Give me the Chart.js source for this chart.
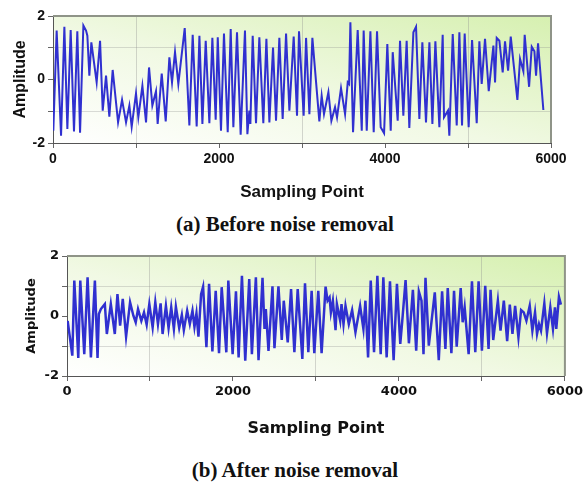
<!DOCTYPE html>
<html>
<head>
<meta charset="utf-8">
<script src="https://cdn.jsdelivr.net/npm/chart.js@4/dist/chart.umd.min.js"></script>
<style>
  body { margin: 0; background: #fff; width: 586px; height: 486px; position: relative; overflow: hidden; }
  canvas { position: absolute; left: 0; }
  .cap { position: absolute; left: 0; width: 586px; text-align: center;
         font-family: "Liberation Serif", "DejaVu Serif", serif; font-weight: bold; font-size: 21px; color: #111; }
</style>
</head>
<body>
<canvas id="before" width="586" height="203" style="top:0"></canvas>
<div class="cap" style="top:212px; left:-8px">(a) Before noise removal</div>
<canvas id="after" width="586" height="198" style="top:240px"></canvas>
<div class="cap" style="top:458px; left:2px">(b) After noise removal</div>
<script>
// tick labels on both charts
const xTicks = [0, 2000, 4000, 6000];
const yTicks = [-2, 0, 2];

// (a) signal before noise removal: sampling point / amplitude
const beforeSample = [
  4, 44, 97, 137, 173, 213, 253, 293, 326, 366,
  398, 414, 438, 462, 526, 567, 599, 639, 679, 719,
  784, 832, 880, 920, 948, 1000, 1028, 1077, 1121, 1157,
  1197, 1241, 1261, 1310, 1358, 1402, 1434, 1470, 1510, 1587,
  1643, 1683, 1731, 1764, 1800, 1840, 1884, 1920, 1960, 1985,
  2024, 2060, 2105, 2141, 2173, 2217, 2261, 2313, 2342, 2366,
  2378, 2406, 2446, 2486, 2534, 2571, 2607, 2651, 2687, 2727,
  2767, 2808, 2848, 2900, 2940, 2964, 3020, 3049, 3089, 3125,
  3209, 3237, 3265, 3318, 3354, 3398, 3422, 3470, 3519, 3551,
  3567, 3583, 3615, 3671, 3720, 3743, 3780, 3824, 3864, 3904,
  3948, 3989, 4028, 4069, 4093, 4153, 4181, 4221, 4261, 4293,
  4342, 4374, 4414, 4450, 4494, 4535, 4571, 4607, 4655, 4695,
  4711, 4759, 4775, 4816, 4864, 4896, 4928, 4960, 5008, 5049,
  5105, 5137, 5165, 5205, 5250, 5306, 5326, 5346, 5378, 5418,
  5446, 5483, 5515, 5595, 5627, 5667, 5683, 5736, 5768, 5800,
  5820, 5844, 5908
];
const beforeAmp = [
  -1.61, 1.54, -1.77, 1.66, -1.56, 1.56, -1.64, 1.52, -1.68, 1.70,
  1.54, 1.38, 0.12, 1.17, -0.09, 1.22, -0.98, 0.12, -1.17, 0.30,
  -1.35, -0.64, -1.35, -0.82, -1.49, -0.44, -1.19, -0.20, -1.35, 0.38,
  -0.82, -0.37, -1.40, 0.19, -1.32, 0.70, -0.09, 0.86, -0.14, 1.62,
  -1.45, 1.41, -1.48, 1.38, -1.40, 1.22, -1.38, 1.31, -1.27, 1.33,
  -1.61, 1.45, -1.66, 1.59, -1.50, 1.49, -1.74, 1.54, -1.72, -0.98,
  -1.40, 1.38, -1.38, 1.33, -1.38, 1.28, -1.35, 1.01, -1.30, 1.31,
  -1.24, 1.45, -0.98, 1.35, -1.14, 1.52, -1.14, 1.31, -1.09, 1.31,
  -1.32, -0.51, -1.09, -0.40, -1.30, -0.87, -1.19, -0.27, -1.09, -0.09,
  -0.14, 1.80, -1.66, 1.56, -1.61, 1.54, -1.61, 1.52, -1.66, 1.52,
  -1.50, -1.69, 1.12, -1.61, 0.86, -1.30, 1.22, -1.14, 1.22, -1.53,
  1.49, 1.66, -1.24, 1.17, -1.35, 1.17, -1.40, 1.20, -1.50, 1.41,
  -1.19, -0.98, -1.77, 1.43, -1.45, 1.49, -1.45, 1.45, -1.50, 1.24,
  -1.38, 1.20, -0.14, 1.28, -0.37, 1.07, -0.09, 1.31, 1.22, 0.22,
  1.20, 0.28, 1.35, -0.64, 0.65, 0.26, 1.41, -0.23, 1.03, 0.89,
  0.12, 1.14, -0.96
];

// (b) signal after noise removal
const afterSample = [
  8, 64, 88, 136, 160, 208, 248, 288, 336, 368,
  384, 408, 456, 480, 528, 576, 608, 640, 672, 712,
  760, 800, 828, 856, 896, 928, 960, 992, 1032, 1064,
  1096, 1128, 1152, 1192, 1224, 1256, 1288, 1312, 1352, 1384,
  1408, 1448, 1480, 1512, 1536, 1560, 1584, 1616, 1640, 1680,
  1712, 1752, 1792, 1832, 1864, 1920, 1944, 1996, 2036, 2068,
  2108, 2148, 2196, 2228, 2276, 2308, 2356, 2380, 2396, 2428,
  2476, 2500, 2548, 2588, 2612, 2660, 2700, 2740, 2780, 2836,
  2868, 2908, 2948, 2980, 3028, 3068, 3116, 3140, 3164, 3180,
  3204, 3236, 3252, 3292, 3308, 3332, 3356, 3396, 3436, 3476,
  3532, 3572, 3596, 3628, 3660, 3700, 3740, 3780, 3812, 3852,
  3892, 3936, 3976, 4016, 4040, 4080, 4120, 4168, 4208, 4240,
  4272, 4296, 4320, 4360, 4432, 4480, 4520, 4560, 4588, 4632,
  4664, 4696, 4744, 4768, 4792, 4840, 4880, 4920, 4960, 5000,
  5040, 5080, 5104, 5136, 5192, 5224, 5264, 5304, 5336, 5368,
  5400, 5440, 5472, 5504, 5536, 5576, 5608, 5640, 5664, 5688,
  5712, 5752, 5784, 5824, 5856, 5880, 5896, 5928, 5952
];
const afterAmp = [
  -0.16, -1.32, 1.18, -1.40, 1.18, -1.27, 1.29, -1.38, 1.18, -1.40,
  0.07, 0.23, 0.40, -0.60, 0.40, -0.60, 0.73, -0.32, 0.57, -0.69,
  0.46, 0.01, -0.21, 0.23, -0.16, 0.12, -0.29, 0.40, -0.38, 0.46,
  -0.27, 0.42, -0.60, 0.34, -0.40, 0.29, -0.43, 0.31, -0.40, 0.04,
  -0.47, 0.18, -0.27, 0.18, -0.36, 0.09, -0.69, 0.73, 0.98, -1.04,
  1.07, -1.18, 0.84, -1.24, 0.96, -1.21, 1.18, -1.27, 0.82, -1.38,
  1.34, -1.49, 1.23, -1.27, 1.29, -1.47, 1.27, -0.43, 0.23, -1.16,
  0.99, -1.07, 0.99, -0.80, 0.51, -0.88, 0.90, -1.21, 0.90, -1.43,
  1.09, -1.21, 0.84, -1.24, 0.84, -1.24, 0.98, 0.51, 0.62, 0.12,
  0.51, -0.47, 0.40, -0.16, 0.40, -0.27, 0.34, -0.27, 0.20, -0.54,
  0.34, -0.43, 0.51, -1.38, 1.18, -1.21, 1.34, -1.27, 1.29, -1.38,
  1.16, -1.47, 1.07, -0.93, -0.16, 1.20, -0.91, 0.87, -1.16, 0.82,
  0.51, -1.27, 1.27, -0.99, 0.79, -1.47, 0.82, -1.10, 0.93, -1.24,
  0.84, -1.02, 0.93, -0.21, 0.29, -1.27, 1.16, -1.21, 1.16, -1.16,
  1.01, -1.10, 0.87, -0.80, 0.51, -0.49, 0.51, -0.84, 0.38, -0.60,
  0.34, -0.71, 0.20, 0.12, -0.16, 0.34, -0.49, 0.12, -0.60, -0.27,
  -0.49, 0.42, -0.58, 0.29, -0.43, 0.29, -0.43, 0.64, 0.38
];

// gradient background (white bottom-left -> green top-right) and frame
const panelPlugin = {
  id: 'panel',
  beforeDraw(chart) {
    const a = chart.chartArea, ctx = chart.ctx;
    const w = a.right - a.left, h = a.bottom - a.top;
    const cx = a.left + w / 2, cy = a.top + h / 2;
    const t = (w * h) / (w * w + h * h);
    const g = ctx.createLinearGradient(cx - t * h, cy + t * w, cx + t * h, cy - t * w);
    g.addColorStop(0, '#ffffff');
    g.addColorStop(0.45, '#f1f9e4');
    g.addColorStop(1, '#d6f0b0');
    ctx.save();
    ctx.fillStyle = g;
    ctx.fillRect(a.left, a.top, w, h);
    ctx.restore();
  },
  afterDraw(chart) {
    const a = chart.chartArea, ctx = chart.ctx;
    ctx.save();
    ctx.strokeStyle = '#8f9488';
    ctx.lineWidth = 2;
    ctx.beginPath();
    ctx.moveTo(a.left, a.top);
    ctx.lineTo(a.right, a.top);
    ctx.lineTo(a.right, a.bottom);
    ctx.stroke();
    ctx.restore();
  }
};

function makeChart(id, xs, ys, o) {
  const pts = xs.map((x, i) => ({ x: x, y: ys[i] }));
  return new Chart(document.getElementById(id), {
    type: 'line',
    data: {
      datasets: [{
        data: pts,
        borderColor: '#3030d0',
        borderWidth: o.lineWidth,
        pointRadius: 0,
        tension: 0,
        fill: false
      }]
    },
    plugins: [panelPlugin],
    options: {
      responsive: false,
      animation: false,
      layout: { padding: { left: 0, right: o.padRight, top: 16, bottom: 0 } },
      plugins: { legend: { display: false }, tooltip: { enabled: false } },
      scales: {
        x: {
          type: 'linear', min: 0, max: 6000,
          afterFit: s => { s.height = o.xHeight; },
          afterBuildTicks: s => {
            s.ticks = [0, 1000, 2000, 3000, 4000, 5000, 6000].map(v => ({ value: v }));
          },
          ticks: {
            color: '#111', padding: 3, maxRotation: 0, autoSkip: false,
            font: { family: o.font, weight: 'bold', size: o.tickSize },
            callback: v => xTicks.includes(v) ? v : ''
          },
          grid: {
            drawOnChartArea: true, tickLength: 5,
            color: c => (c.tick && c.tick.value % 2000 === 1000) ? 'rgba(140,140,140,0.35)' : 'rgba(0,0,0,0)',
            tickColor: '#666'
          },
          border: { color: '#555', width: 1 },
          title: {
            display: true, text: 'Sampling Point', color: '#111',
            font: { family: o.font, weight: 'bold', size: o.xTitleSize },
            padding: { top: 0, bottom: 0 }
          }
        },
        y: {
          min: -2, max: 2,
          afterFit: s => { s.width = o.yWidth; },
          afterBuildTicks: s => {
            s.ticks = [-2, -1, 0, 1, 2].map(v => ({ value: v }));
          },
          ticks: {
            color: '#111', padding: 3,
            font: { family: o.font, weight: 'bold', size: o.tickSize },
            callback: v => yTicks.includes(v) ? v : ''
          },
          grid: {
            tickLength: 5,
            color: c => (c.tick && Math.abs(c.tick.value) === 1) ? 'rgba(140,140,140,0.3)' : 'rgba(0,0,0,0)',
            tickColor: '#666'
          },
          border: { color: '#555', width: 1 },
          title: {
            display: true, text: 'Amplitude', color: '#111',
            font: { family: o.font, weight: 'bold', size: o.yTitleSize },
            padding: { top: o.yTitlePad, bottom: 0 }
          }
        }
      }
    }
  });
}

makeChart('before', beforeSample, beforeAmp, {
  lineWidth: 2, padRight: 35, xHeight: 60, yWidth: 53,
  font: '"Liberation Sans", Arial, sans-serif', tickSize: 14,
  xTitleSize: 17, yTitleSize: 16, yTitlePad: 11
});

makeChart('after', afterSample, afterAmp, {
  lineWidth: 2.5, padRight: 19, xHeight: 62, yWidth: 67,
  font: '"DejaVu Sans", sans-serif', tickSize: 13,
  xTitleSize: 16, yTitleSize: 13, yTitlePad: 24
});
</script>
</body>
</html>
